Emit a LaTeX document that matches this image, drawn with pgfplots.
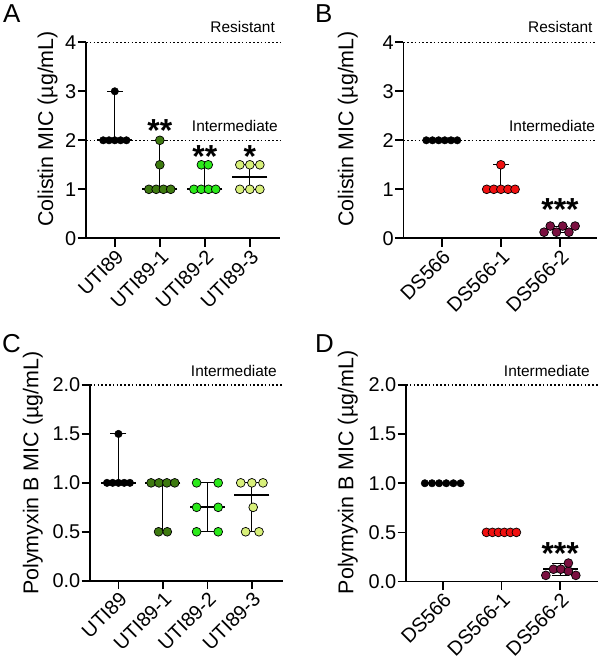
\documentclass[border=0pt]{standalone}
\usepackage{fontspec}
\setmainfont{Liberation Sans}
\usepackage{pgfplots}
\pgfplotsset{compat=1.18}

\definecolor{dkgreen}{HTML}{3E7A10}
\definecolor{brgreen}{HTML}{2BEA1A}
\definecolor{palegreen}{HTML}{D8F07A}
\definecolor{myred}{HTML}{F01010}
\definecolor{mymaroon}{HTML}{7A1040}

\pgfplotsset{
 mic/.style={
  scale only axis, anchor=south west, clip=false,
  axis x line=bottom, axis y line=left,
  axis line style={-, line width=1.6bp},
  every tick/.style={black, line width=1.6bp},
  major tick length=8.5bp, tick align=outside,
  tick label style={font=\fontsize{20}{22}\selectfont},
  label style={font=\fontsize{21.5}{24}\selectfont},
  /pgf/number format/assume math mode=true,
  xtick={0,1,2,3},
  xticklabel style={rotate=45, anchor=north east, inner sep=1bp},
  yticklabel style={inner sep=1bp},
 },
 refl/.style={black, line width=1.3bp, dash pattern=on 1.6bp off 2.2bp, mark=none},
 rng/.style={black, line width=1bp, mark=none},
 cap/.style={only marks, mark=-, mark size=8bp, mark options={black, line width=1bp}},
 med/.style={only marks, mark=-, mark size=17.5bp, mark options={black, line width=1.8bp}},
 pts/.style={only marks, mark=*, mark size=4.4bp, mark options={draw=black, line width=0.7bp, fill=#1}},
 bpts/.style={only marks, mark=*, mark size=3.7bp, mark options={draw=black, line width=0.5bp, fill=black}},
}
\newcommand{\reftext}{\fontsize{15.5}{17}\selectfont}
\newcommand{\asterfont}{\fontsize{32}{34}\selectfont\bfseries}

\begin{document}
\begin{tikzpicture}
\useasboundingbox (0,0) rectangle (600bp,659bp);

% panel letters
\node[anchor=base west, inner sep=0, font=\fontsize{26}{28}\selectfont] at (3bp,636bp) {A};
\node[anchor=base west, inner sep=0, font=\fontsize{26}{28}\selectfont] at (315bp,636bp) {B};
\node[anchor=base west, inner sep=0, font=\fontsize{26}{28}\selectfont] at (2bp,306bp) {C};
\node[anchor=base west, inner sep=0, font=\fontsize{26}{28}\selectfont] at (315bp,306bp) {D};

% ---------------- A ----------------
\begin{axis}[mic, at={(86bp,420.7bp)}, width=194bp, height=196bp,
  xmin=-0.64, xmax=3.67, ymin=0, ymax=4, ytick={0,1,2,3,4},
  xticklabels={UTI89,UTI89-1,UTI89-2,UTI89-3},
  ylabel={Colistin MIC (µg/mL)},
  ylabel style={at={(axis description cs:-0.170,0.558)}, anchor=base}]
\addplot[refl] coordinates {(-0.64,4)(3.67,4)};
\addplot[refl] coordinates {(-0.64,2)(3.67,2)};
\addplot[rng] coordinates {(0,2)(0,3)};
\addplot[rng] coordinates {(1,1)(1,2)};
\addplot[rng] coordinates {(2,1)(2,1.5)};
\addplot[rng] coordinates {(3,1)(3,1.5)};
\addplot[cap] coordinates {(0,2)(0,3)(1,1)(1,2)(2,1)(2,1.5)(3,1)(3,1.5)};
\addplot[med] coordinates {(0,2)(1,1)(2,1)(3,1.25)};
\addplot[bpts] coordinates {(-0.258,2)(-0.129,2)(0,2)(0.129,2)(0.258,2)(0,3)};
\addplot[pts=dkgreen] coordinates {(1,2)(1,1.5)(0.757,1)(0.919,1)(1.081,1)(1.243,1)};
\addplot[pts=brgreen] coordinates {(1.924,1.5)(2.076,1.5)(1.757,1)(1.919,1)(2.081,1)(2.243,1)};
\addplot[pts=palegreen] coordinates {(2.778,1.5)(3,1.5)(3.222,1.5)(2.778,1)(3,1)(3.222,1)};
\node[anchor=base east, font=\reftext, inner sep=0, xshift=-5bp, yshift=9.5bp] at (axis cs:3.67,4) {Resistant};
\node[anchor=base east, font=\reftext, inner sep=0, xshift=-2bp, yshift=9bp] at (axis cs:3.67,2) {Intermediate};
\node[anchor=base, font=\asterfont, inner sep=0] at (axis cs:1,1.97) {**};
\node[anchor=base, font=\asterfont, inner sep=0] at (axis cs:2,1.45) {**};
\node[anchor=base, font=\asterfont, inner sep=0] at (axis cs:3,1.45) {*};
\end{axis}

% ---------------- B ----------------
\begin{axis}[mic, at={(403.3bp,420.7bp)}, width=193.4bp, height=196bp,
  xmin=-0.65, xmax=2.62, ymin=0, ymax=4, ytick={0,1,2,3,4}, xtick={0,1,2},
  xticklabels={DS566,DS566-1,DS566-2},
  ylabel={Colistin MIC (µg/mL)},
  ylabel style={at={(axis description cs:-0.2585,0.558)}, anchor=base}]
\addplot[refl] coordinates {(-0.65,4)(2.62,4)};
\addplot[refl] coordinates {(-0.65,2)(2.62,2)};
\addplot[rng] coordinates {(1,1)(1,1.5)};
\addplot[rng] coordinates {(2,0.125)(2,0.25)};
\addplot[cap] coordinates {(0,2)(1,1)(1,1.5)(2,0.125)(2,0.25)};
\addplot[med] coordinates {(0,2)(1,1)(2,0.1875)};
\addplot[bpts] coordinates {(-0.262,2)(-0.157,2)(-0.052,2)(0.052,2)(0.157,2)(0.262,2)};
\addplot[pts=myred] coordinates {(1,1.5)(0.76,1)(0.88,1)(1,1)(1.12,1)(1.24,1)};
\addplot[pts=mymaroon] coordinates {(1.73,0.125)(1.94,0.125)(2.15,0.125)(1.835,0.25)(2.045,0.25)(2.255,0.25)};
\node[anchor=base east, font=\reftext, inner sep=0, xshift=-4bp, yshift=9.5bp] at (axis cs:2.62,4) {Resistant};
\node[anchor=base east, font=\reftext, inner sep=0, xshift=-1.5bp, yshift=9bp] at (axis cs:2.62,2) {Intermediate};
\node[anchor=base, font=\asterfont, inner sep=0] at (axis cs:2,0.36) {***};
\end{axis}

% ---------------- C ----------------
\begin{axis}[mic, at={(90bp,78.3bp)}, width=193bp, height=195.7bp,
  xmin=-0.64, xmax=3.7, ymin=0, ymax=2, ytick={0,0.5,1,1.5,2},
  yticklabel style={/pgf/number format/.cd, fixed, fixed zerofill, precision=1},
  xticklabels={UTI89,UTI89-1,UTI89-2,UTI89-3},
  ylabel={Polymyxin B MIC (µg/mL)},
  ylabel style={at={(axis description cs:-0.268,0.549)}, anchor=base}]
\addplot[refl] coordinates {(-0.64,2)(3.7,2)};
\addplot[rng] coordinates {(0,1)(0,1.5)};
\addplot[rng] coordinates {(1,0.5)(1,1)};
\addplot[rng] coordinates {(2,0.5)(2,1)};
\addplot[rng] coordinates {(3,0.5)(3,1)};
\addplot[cap] coordinates {(0,1)(0,1.5)(1,0.5)(1,1)(2,0.5)(2,1)(3,0.5)(3,1)};
\addplot[med] coordinates {(0,1)(1,1)(2,0.75)(3,0.875)};
\addplot[bpts] coordinates {(0,1.5)(-0.258,1)(-0.129,1)(0,1)(0.129,1)(0.258,1)};
\addplot[pts=dkgreen] coordinates {(0.734,1)(0.911,1)(1.089,1)(1.266,1)(0.902,0.5)(1.098,0.5)};
\addplot[pts=brgreen] coordinates {(1.757,1)(2.243,1)(1.757,0.75)(2.243,0.75)(1.757,0.5)(2.243,0.5)};
\addplot[pts=palegreen] coordinates {(2.75,1)(3,1)(3.25,1)(3.03,0.75)(2.86,0.5)(3.16,0.5)};
\node[anchor=base east, font=\reftext, inner sep=0, xshift=-6bp, yshift=8.5bp] at (axis cs:3.7,2) {Intermediate};
\end{axis}

% ---------------- D ----------------
\begin{axis}[mic, at={(406bp,77.5bp)}, width=192bp, height=196.5bp,
  xmin=-0.625, xmax=2.645, ymin=0, ymax=2, ytick={0,0.5,1,1.5,2}, xtick={0,1,2},
  yticklabel style={/pgf/number format/.cd, fixed, fixed zerofill, precision=1},
  xticklabels={DS566,DS566-1,DS566-2},
  ylabel={Polymyxin B MIC (µg/mL)},
  ylabel style={at={(axis description cs:-0.2745,0.555)}, anchor=base}]
\addplot[refl] coordinates {(-0.625,2)(2.645,2)};
\addplot[rng] coordinates {(2,0.0625)(2,0.1875)};
\addplot[cap] coordinates {(0,1)(1,0.5)(2,0.0625)(2,0.1875)};
\addplot[med] coordinates {(0,1)(1,0.5)(2,0.125)};
\addplot[bpts] coordinates {(-0.304,1)(-0.182,1)(-0.061,1)(0.061,1)(0.182,1)(0.304,1)};
\addplot[pts=myred] coordinates {(0.745,0.5)(0.847,0.5)(0.949,0.5)(1.051,0.5)(1.153,0.5)(1.255,0.5)};
\addplot[pts=mymaroon] coordinates {(1.756,0.0625)(2.267,0.0625)(1.886,0.125)(2.012,0.125)(2.141,0.105)(2.141,0.1875)};
\node[anchor=base east, font=\reftext, inner sep=0, xshift=-8bp, yshift=8.5bp] at (axis cs:2.645,2) {Intermediate};
\node[anchor=base, font=\asterfont, inner sep=0] at (axis cs:2,0.173) {***};
\end{axis}
\end{tikzpicture}
\end{document}
